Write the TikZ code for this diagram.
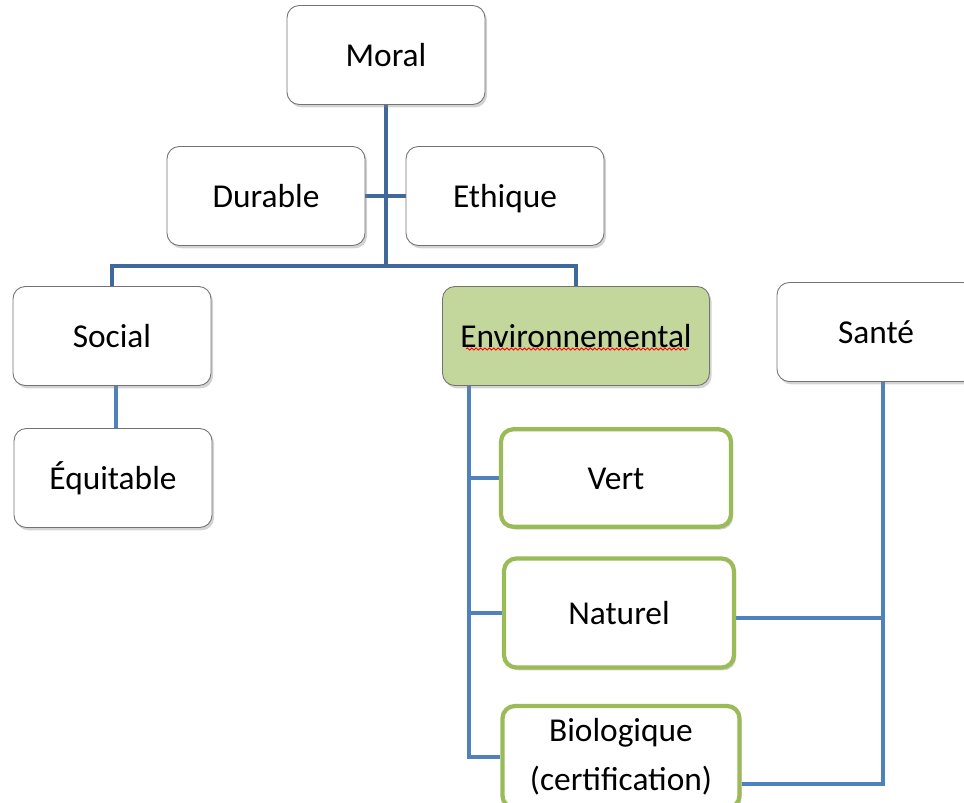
\documentclass[tikz,border=0pt]{standalone}
\usepackage{fontspec}
\setmainfont{Carlito}
\usetikzlibrary{shadows,calc,backgrounds,decorations.pathmorphing}

\definecolor{linkdark}{HTML}{41689C}
\definecolor{linkblue}{HTML}{4F81BD}
\definecolor{leafgreen}{HTML}{9BBB59}
\definecolor{envfill}{HTML}{C3D69B}

\tikzset{
	box/.style={draw=black!55, line width=0.5pt, fill=white, rounded corners=7pt,
		minimum width=3.96cm, minimum height=1.98cm, align=center,
		font=\fontsize{19}{23}\selectfont, text height=13.5pt, text depth=0pt,
		drop shadow={opacity=0.35, shadow xshift=1.2pt, shadow yshift=-1.6pt}},
	leaf/.style={box, draw=leafgreen, line width=2.4pt, minimum width=4.6cm, minimum height=1.95cm},
	toplink/.style={draw=linkdark, line width=2.4pt},
	lowlink/.style={draw=linkblue, line width=2.4pt}
}

\begin{document}
\begin{tikzpicture}[x=0.02cm, y=-0.02cm]
		\useasboundingbox (0,0) rectangle (964,802);

		\node[box] (moral) at (386,55) {Moral};
		\node[box] (durable) at (266,196) {Durable};
		\node[box] (ethique) at (505,196) {Ethique};
		\node[box] (social) at (112,336) {Social};
		\node[box] (equitable) at (113,478) {Équitable};
		\node[box, fill=envfill, minimum width=5.34cm] (env) at (576,336) {Environnemental};
		\node[box] (sante) at (876,332) {Santé};

		\node[leaf] (vert) at (616,478) {Vert};
		\node[leaf, minimum height=2.18cm] (naturel) at (619,613) {Naturel};
		\node[leaf, minimum width=4.74cm, minimum height=2.04cm, text height=, text depth=] (bio) at (621,757)
			{Biologique\\[5pt](certification)};

		\draw[red, line width=0.5pt, decorate, decoration={snake, amplitude=0.6pt, segment length=2.5pt}]
		(466,349) -- (688,349);

		\coordinate (hub) at (moral.south |- 0,266);
		\coordinate (soctap) at ($(social.south)+(4,0)$);
		\coordinate (envtap) at ($(env.south west)+(27,0)$);
		\coordinate (santetap) at ($(sante.south)+(7,-4)$);
		\coordinate (natright) at ($(naturel.east)+(0,5)$);
		\coordinate (bioright) at ($(bio.east)+(0,27)$);

		\begin{scope}[on background layer]
		\draw[toplink] (moral.south) -- (hub);
		\draw[toplink] (social.north) |- (hub) -| (env.north);
		\draw[toplink] (durable.east) -- (ethique.west);
		\draw[lowlink] (soctap) -- (soctap |- equitable.north);
		\draw[lowlink] (envtap) |- (bio.west);
		\draw[lowlink] (vert.west) -- (vert.west -| envtap);
		\draw[lowlink] (naturel.west) -- (naturel.west -| envtap);
		\draw[lowlink] (santetap) |- (bioright);
		\draw[lowlink] (natright) -- (natright -| santetap);
		\end{scope}
	\end{tikzpicture}
\end{document}
